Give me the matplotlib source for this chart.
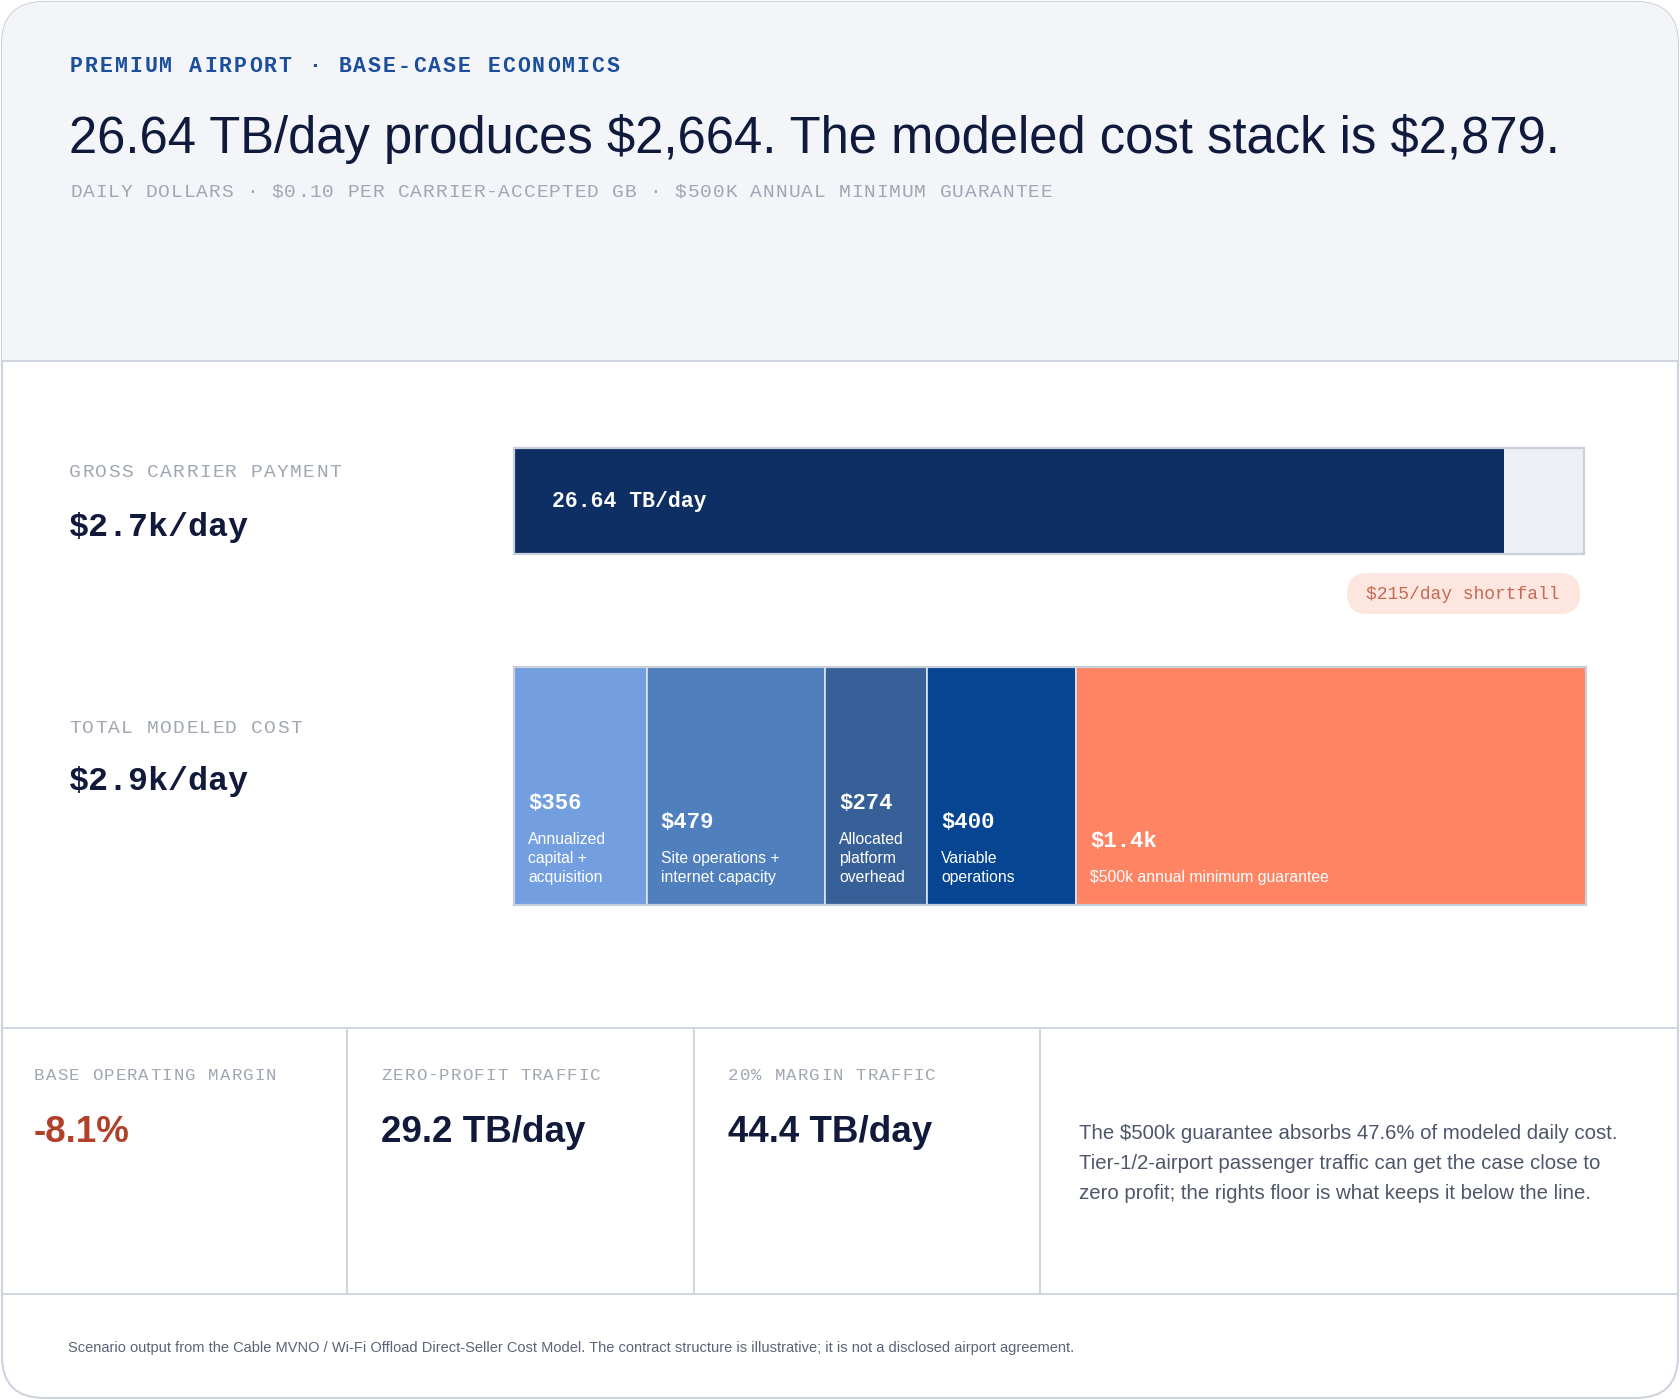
import matplotlib
matplotlib.use("Agg")
import matplotlib.pyplot as plt
from matplotlib.patches import FancyBboxPatch, Rectangle
import numpy as np

plt.rcParams["text.parse_math"] = False

# ---- data ----
gross_payment = 2664          # $/day
traffic_label = "26.64 TB/day"
cost_values = [356, 479, 274, 400, 1370]
cost_names = ["Annualized\ncapital +\nacquisition",
              "Site operations +\ninternet capacity",
              "Allocated\nplatform\noverhead",
              "Variable\noperations",
              "$500k annual minimum guarantee"]
cost_colors = ["#739ee0", "#507fbd", "#386098", "#054592", "#ff8463"]
kpi_labels = ["BASE OPERATING MARGIN", "ZERO-PROFIT TRAFFIC", "20% MARGIN TRAFFIC"]
kpi_values = ["-8.1%", "29.2 TB/day", "44.4 TB/day"]
kpi_colors = ["#b0402a", "#111a3a", "#111a3a"]

kicker = "PREMIUM AIRPORT · BASE-CASE ECONOMICS"
title = "26.64 TB/day produces $2,664. The modeled cost stack is $2,879."
subtitle = "DAILY DOLLARS · $0.10 PER CARRIER-ACCEPTED GB · $500K ANNUAL MINIMUM GUARANTEE"
note_lines = ["The $500k guarantee absorbs 47.6% of modeled daily cost.",
              "Tier-1/2-airport passenger traffic can get the case close to",
              "zero profit; the rights floor is what keeps it below the line."]
footer = ("Scenario output from the Cable MVNO / Wi-Fi Offload Direct-Seller Cost Model. "
          "The contract structure is illustrative; it is not a disclosed airport agreement.")

total_cost = sum(cost_values)
shortfall = total_cost - gross_payment

W, H = 1680, 1400
SANS = "Liberation Sans"
MONO = "Liberation Mono"
NAVY = "#111a3a"
GRAY = "#a0a6b2"
LINE = "#cfd5e0"


def money(v):
    return f"${v:,.0f}" if v < 1000 else f"${v / 1000:.1f}k"


fig = plt.figure(figsize=(W / 100, H / 100), dpi=100)
bg = fig.add_axes([0, 0, 1, 1])
bg.set_xlim(0, W)
bg.set_ylim(H, 0)
bg.axis("off")
renderer = fig.canvas.get_renderer()


def spaced(x, y, s, pitch, **kw):
    # monospace text with extra letter spacing
    for i, ch in enumerate(s):
        bg.text(x + i * pitch, y, ch, ha="left", va="baseline", family=MONO, **kw)


def fit(t, width):
    w = t.get_window_extent(renderer).width
    t.set_fontsize(t.get_fontsize() * width / w)


# card + header band
card = FancyBboxPatch((2, 2), W - 4, H - 4, boxstyle="round,pad=0,rounding_size=42",
                      facecolor="white", edgecolor="#ccd2de", linewidth=1.5, zorder=0)
bg.add_patch(card)
band = Rectangle((0, 0), W, 361, facecolor="#f4f5f9", edgecolor="none", zorder=0.5)
bg.add_patch(band)
band.set_clip_path(card)
for yy in [361, 1028, 1294]:
    bg.plot([2, W - 2], [yy, yy], color=LINE, lw=1.4, zorder=1)
for xx in [347, 694, 1040]:
    bg.plot([xx, xx], [1028, 1294], color=LINE, lw=1.4, zorder=1)

# header texts
spaced(70, 72, kicker, 14.9, fontsize=15.5, fontweight="bold", color="#1b4f9c")
t = bg.text(69, 153, title, family=SANS, fontsize=41, color="#0f1a3d", va="baseline")
fit(t, 1491)
spaced(70, 197, subtitle, 12.6, fontsize=14, color=GRAY)

# left row labels
spaced(69, 477, "GROSS CARRIER PAYMENT", 13, fontsize=14, color=GRAY)
bg.text(69, 536, f"${gross_payment / 1000:.1f}k/day", family=MONO, fontweight="bold",
        fontsize=24, color=NAVY, va="baseline")
spaced(69, 733, "TOTAL MODELED COST", 13, fontsize=14, color=GRAY)
bg.text(69, 790, f"${total_cost / 1000:.1f}k/day", family=MONO, fontweight="bold",
        fontsize=24, color=NAVY, va="baseline")


def bar_axes(x0, x1, y0, y1):
    ax = fig.add_axes([x0 / W, 1 - y1 / H, (x1 - x0) / W, (y1 - y0) / H])
    ax.set_xlim(0, total_cost)
    ax.set_ylim(-0.5, 0.5)
    ax.set_xticks([])
    ax.set_yticks([])
    for s in ax.spines.values():
        s.set_color("#c9d0dc")
        s.set_linewidth(1.6)
    return ax


# gross payment bar
ax1 = bar_axes(514, 1584, 448, 554)
ax1.barh(0, gross_payment, height=1, color="#0e2f63", zorder=2)
ax1.barh(0, total_cost - gross_payment, left=gross_payment, height=1, color="#edf0f5", zorder=2)
ax1.annotate(traffic_label, xy=(0, 0), xycoords=("data", "data"), xytext=(38, 0),
             textcoords="offset pixels", va="center", ha="left", family=MONO,
             fontweight="bold", fontsize=15.5, color="white", zorder=3)

# shortfall pill
pill = FancyBboxPatch((1347, 573), 233, 41, boxstyle="round,pad=0,rounding_size=20",
                      facecolor="#fde6df", edgecolor="none", zorder=2)
bg.add_patch(pill)
bg.text(1463, 599, f"${shortfall}/day shortfall", family=MONO, fontsize=13,
        color="#c46a55", ha="center", va="baseline", zorder=3)

# cost stack bar
ax2 = bar_axes(514, 1586, 667, 905)
lefts = np.concatenate([[0], np.cumsum(cost_values)[:-1]])
ax2.barh(np.zeros(len(cost_values)), cost_values, left=lefts, height=1,
         color=cost_colors, edgecolor="#dde5f1", linewidth=1.2, zorder=2)
for left, v, name in zip(lefts, cost_values, cost_names):
    lines = name.split("\n")
    for k, ln in enumerate(reversed(lines)):
        ax2.annotate(ln, xy=(left, 0), xycoords=("data", "axes fraction"),
                     xytext=(14, 23 + 19 * k), textcoords="offset pixels",
                     family=SANS, fontsize=11.3, color="white", va="baseline", zorder=3)
    ax2.annotate(money(v), xy=(left, 0), xycoords=("data", "axes fraction"),
                 xytext=(14, 23 + 19 * (len(lines) - 1) + 35), textcoords="offset pixels",
                 family=MONO, fontweight="bold", fontsize=16, color="white",
                 va="baseline", zorder=3)

# KPI cells
col_left = [0, 347, 694]
for x0, lab, val, c in zip(col_left, kpi_labels, kpi_values, kpi_colors):
    spaced(x0 + 34, 1080, lab, 11.6, fontsize=12.5, color=GRAY)
    bg.text(x0 + 34, 1142, val, family=SANS, fontweight="bold", fontsize=26.5,
            color=c, va="baseline")

for k, ln in enumerate(note_lines):
    t = bg.text(1079, 1139 + 30 * k, ln, family=SANS, fontsize=14, color="#4f566b",
                va="baseline")
    if k == 0:
        fit(t, 543)
        note_size = t.get_fontsize()
    else:
        t.set_fontsize(note_size)

t = bg.text(68, 1352, footer, family=SANS, fontsize=10, color="#5b6376", va="baseline")
fit(t, 1005)

fig.savefig("out.png", dpi=100, facecolor="white")
